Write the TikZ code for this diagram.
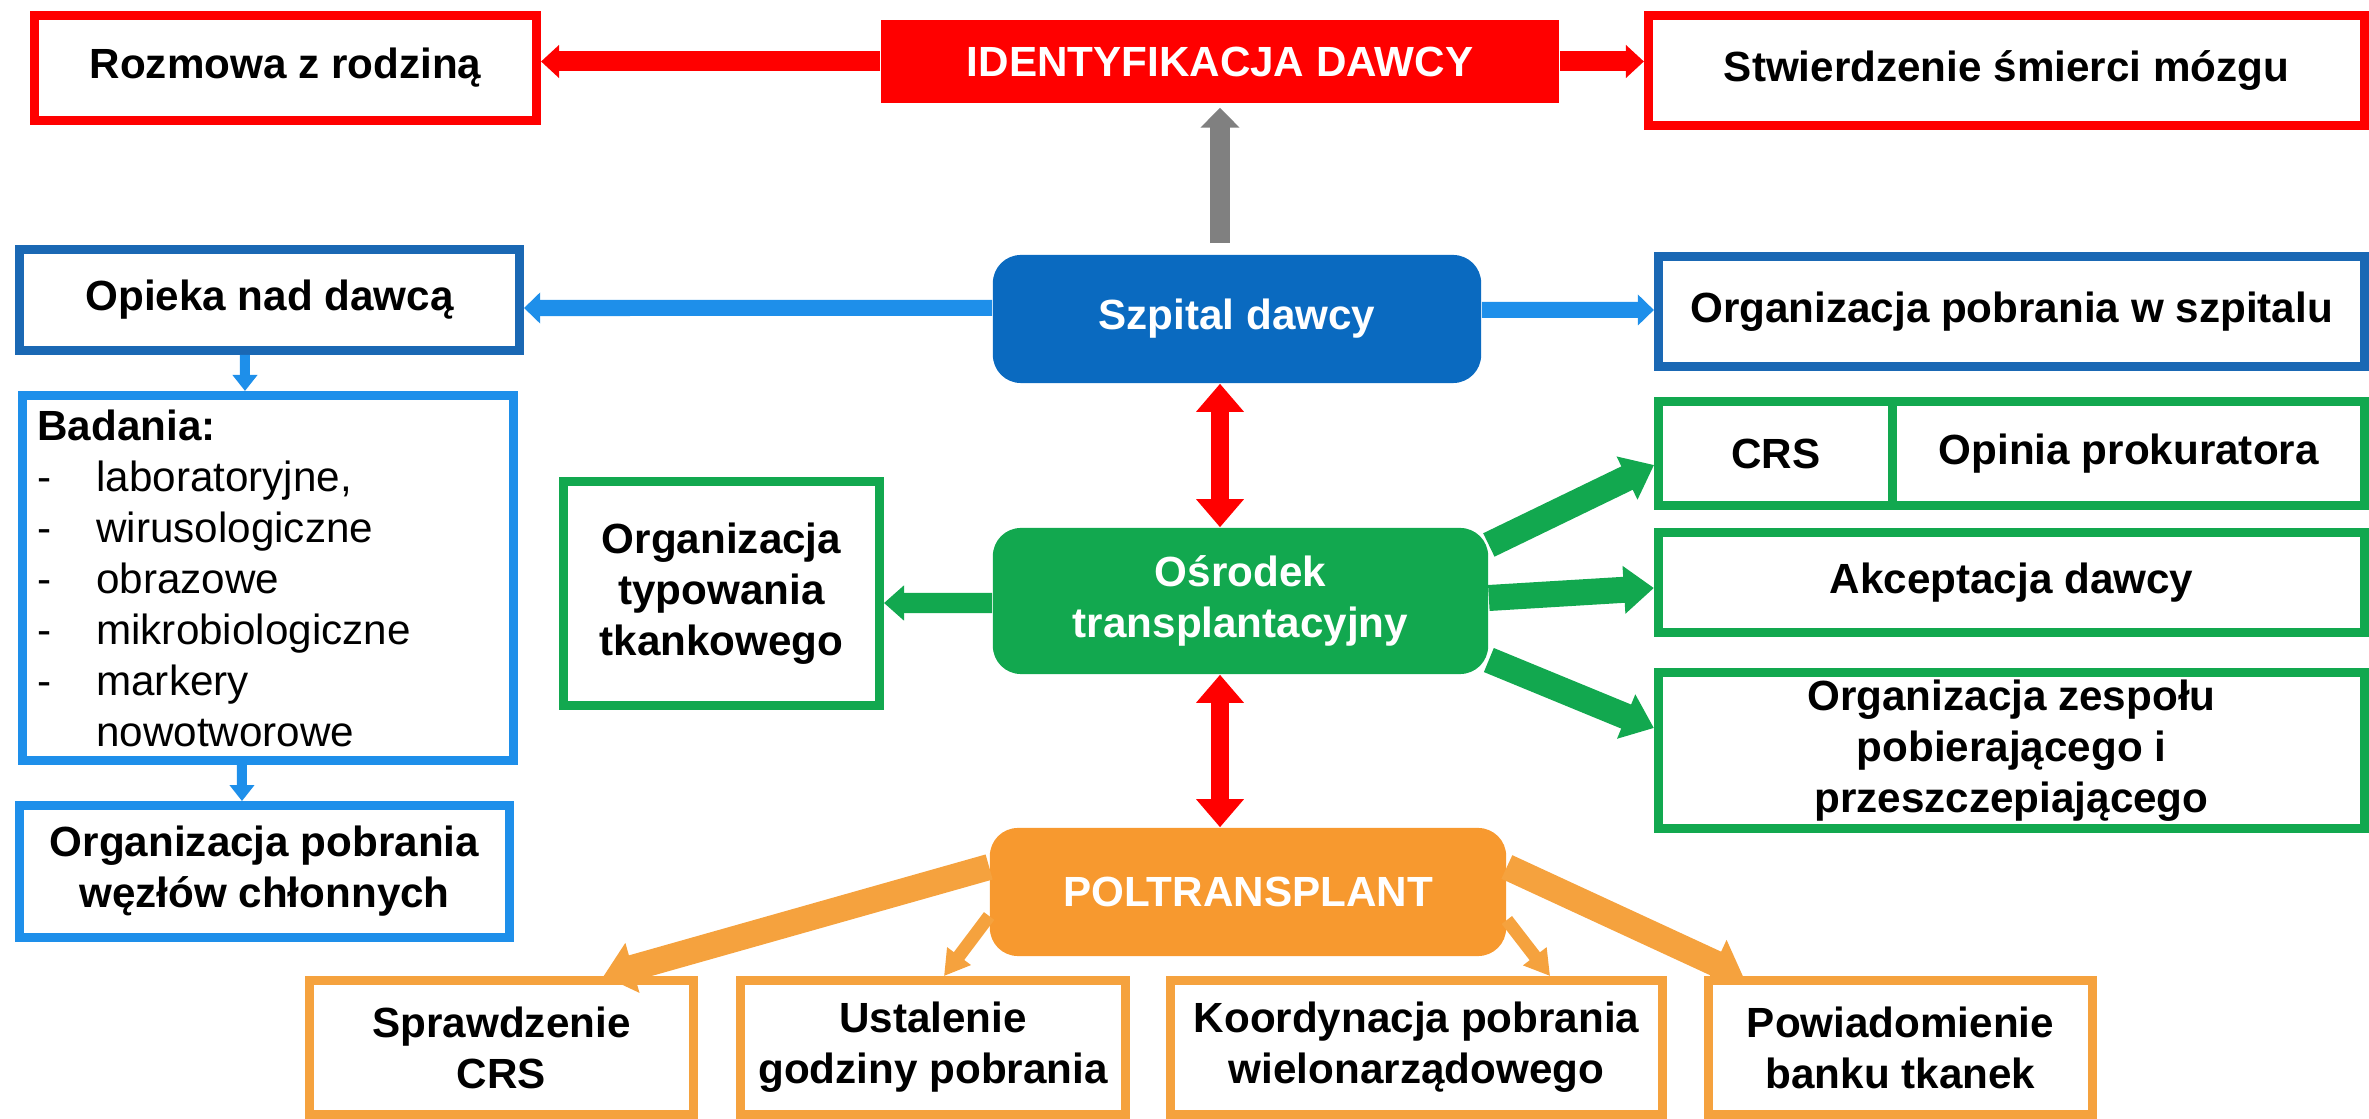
\documentclass[tikz,border=0pt]{standalone}
\usepackage{fontspec}
\setmainfont{Liberation Sans}
\usetikzlibrary{arrows.meta}

\definecolor{idred}{HTML}{FF0000}
\definecolor{arrgray}{HTML}{808080}
\definecolor{hospblue}{HTML}{0A6AC0}
\definecolor{darkblue}{HTML}{1A68B4}
\definecolor{lightblue}{HTML}{1E8FEA}
\definecolor{txgreen}{HTML}{12A84F}
\definecolor{ptorange}{HTML}{F7992F}
\definecolor{boxorange}{HTML}{F5A23E}

\tikzset{
  box/.style={draw, line width=2.5pt, fill=white, align=center, inner sep=2pt,
    font=\fontsize{12pt}{14.5pt}\selectfont\bfseries},
  head/.style={fill, rounded corners=0.28cm, text=white, align=center, inner sep=2pt,
    font=\fontsize{12pt}{14.5pt}\selectfont\bfseries},
  redarr/.style={draw=idred, line width=0.2cm, arrows={-Triangle[length=0.18cm,width=0.32cm]}},
  grayarr/.style={draw=arrgray, line width=0.2cm, arrows={-Triangle[length=0.2cm,width=0.38cm]}},
  bluearr/.style={draw=lightblue, line width=0.16cm, arrows={-Triangle[length=0.16cm,width=0.3cm]}},
  downarr/.style={draw=lightblue, line width=0.1cm, arrows={-Triangle[length=0.16cm,width=0.24cm]}},
  dblarr/.style={draw=idred, line width=0.18cm,
    arrows={Triangle[length=0.28cm,width=0.46cm]-Triangle[length=0.28cm,width=0.46cm]}},
  sidearr/.style={draw=txgreen, line width=0.2cm, arrows={-Triangle[length=0.2cm,width=0.34cm]}},
  greenarr/.style={draw=txgreen, line width=0.26cm, arrows={-Triangle[length=0.3cm,width=0.46cm]}},
  fatarr/.style={draw=boxorange, line width=0.26cm, arrows={-Triangle[length=0.3cm,width=0.5cm]}},
  thinarr/.style={draw=boxorange, line width=0.13cm, arrows={-Triangle[length=0.25cm,width=0.28cm]}}
}

\begin{document}
\begin{tikzpicture}[x=0.01cm,y=-0.01cm]
\useasboundingbox (0,0) rectangle (2369,1119);

\node[box, draw=idred, minimum width=5.02cm, minimum height=1.05cm] (rozmowa) at (285.5,68) {Rozmowa z rodziną};
\node[head, fill=idred, sharp corners, minimum width=6.78cm, minimum height=0.83cm] (ident) at (1220,61.5) {IDENTYFIKACJA DAWCY};
\node[box, draw=idred, minimum width=7.16cm, minimum height=1.10cm] (smierc) at (2006.5,70.5) {Stwierdzenie śmierci mózgu};

\node[box, draw=darkblue, minimum width=5.00cm, minimum height=1.01cm] (opieka) at (269.5,300) {Opieka nad dawcą};
\node[head, fill=hospblue, minimum width=4.88cm, minimum height=1.28cm] (szpital) at (1237,319) {Szpital dawcy};
\node[box, draw=darkblue, minimum width=7.06cm, minimum height=1.10cm] (pobszp) at (2011.5,311.5) {Organizacja pobrania w szpitalu};

\node[box, draw=lightblue, align=left, text width=4.61cm, inner xsep=0.15cm, minimum height=3.65cm] (badania) at (268,578)
  {Badania:\\ \mdseries
   \makebox[0.59cm][l]{-}laboratoryjne,\\
   \makebox[0.59cm][l]{-}wirusologiczne\\
   \makebox[0.59cm][l]{-}obrazowe\\
   \makebox[0.59cm][l]{-}mikrobiologiczne\\
   \makebox[0.59cm][l]{-}markery\\
   \hspace*{0.59cm}nowotworowe};
\node[box, draw=lightblue, minimum width=4.90cm, minimum height=1.32cm] (wezly) at (264.5,871.5) {Organizacja pobrania\\węzłów chłonnych};

\node[box, draw=txgreen, minimum width=3.16cm, minimum height=2.24cm] (typowanie) at (721.5,593.5) {Organizacja\\typowania\\tkankowego};
\node[head, fill=txgreen, minimum width=4.95cm, minimum height=1.46cm] (osrodek) at (1240.5,601) {Ośrodek\\transplantacyjny};
\node[box, draw=txgreen, minimum width=2.345cm, minimum height=1.04cm] (crs) at (1775.75,453.5) {CRS};
\node[box, draw=txgreen, minimum width=4.715cm, minimum height=1.04cm] (opinia) at (2128.75,453.5) {Opinia prokuratora};
\node[box, draw=txgreen, minimum width=7.06cm, minimum height=1.00cm] (akcept) at (2011.5,582.5) {Akceptacja dawcy};
\node[box, draw=txgreen, minimum width=7.06cm, minimum height=1.46cm] (zespol) at (2011.5,750.5) {Organizacja zespołu\\pobierającego i\\przeszczepiającego};

\node[head, fill=ptorange, minimum width=5.16cm, minimum height=1.28cm] (poltr) at (1248,892) {POLTRANSPLANT};
\node[box, draw=boxorange, minimum width=3.84cm, minimum height=1.34cm] (sprawdz) at (501.5,1047.5) {Sprawdzenie\\CRS};
\node[box, draw=boxorange, minimum width=3.85cm, minimum height=1.34cm] (ustal) at (933,1047.5) {Ustalenie\\godziny pobrania};
\node[box, draw=boxorange, minimum width=4.92cm, minimum height=1.34cm] (koord) at (1416.5,1047.5) {Koordynacja pobrania\\wielonarządowego};
\node[box, draw=boxorange, minimum width=3.84cm, minimum height=1.34cm] (powiad) at (1900.5,1047.5) {Powiadomienie\\banku tkanek};

\draw[redarr] (ident.west) -- (rozmowa.east |- ident.west);
\draw[redarr] (ident.east) -- (smierc.west |- ident.east);
\draw[grayarr] ([yshift=0.11cm]ident.south |- szpital.north) -- ([yshift=-0.04cm]ident.south);

\draw[bluearr] ([yshift=0.11cm]szpital.west) -- ([yshift=-0.08cm]opieka.east);
\draw[bluearr] ([yshift=0.09cm]szpital.east) -- ([yshift=0.015cm]pobszp.west);
\draw[downarr] ([xshift=-0.245cm]opieka.south) -- ([xshift=-0.23cm]badania.north);
\draw[downarr] ([xshift=-0.26cm]badania.south) -- ([xshift=-0.225cm]wezly.north);

\draw[dblarr] (ident.south |- szpital.south) -- (ident.south |- osrodek.north);
\draw[dblarr] (ident.south |- osrodek.south) -- (ident.south |- poltr.north);

\draw[sidearr] ([yshift=-0.02cm]osrodek.west) -- ([yshift=-0.095cm]typowanie.east);
\draw[greenarr] ([yshift=0.56cm]osrodek.east) -- ([yshift=-0.115cm]crs.west);
\draw[greenarr] ([yshift=0.03cm]osrodek.east) -- ([yshift=-0.055cm]akcept.west);
\draw[greenarr] ([yshift=-0.59cm]osrodek.east) -- ([yshift=0.225cm]zespol.west);

\draw[fatarr] ([yshift=0.25cm]poltr.west) -- ([xshift=1.02cm]sprawdz.north);
\draw[thinarr] ([yshift=-0.24cm]poltr.west) -- ([xshift=0.11cm]ustal.north);
\draw[thinarr] ([yshift=-0.28cm]poltr.east) -- ([xshift=1.335cm]koord.north);
\draw[fatarr] ([yshift=0.25cm]poltr.east) -- ([xshift=-1.575cm]powiad.north);
\end{tikzpicture}
\end{document}
